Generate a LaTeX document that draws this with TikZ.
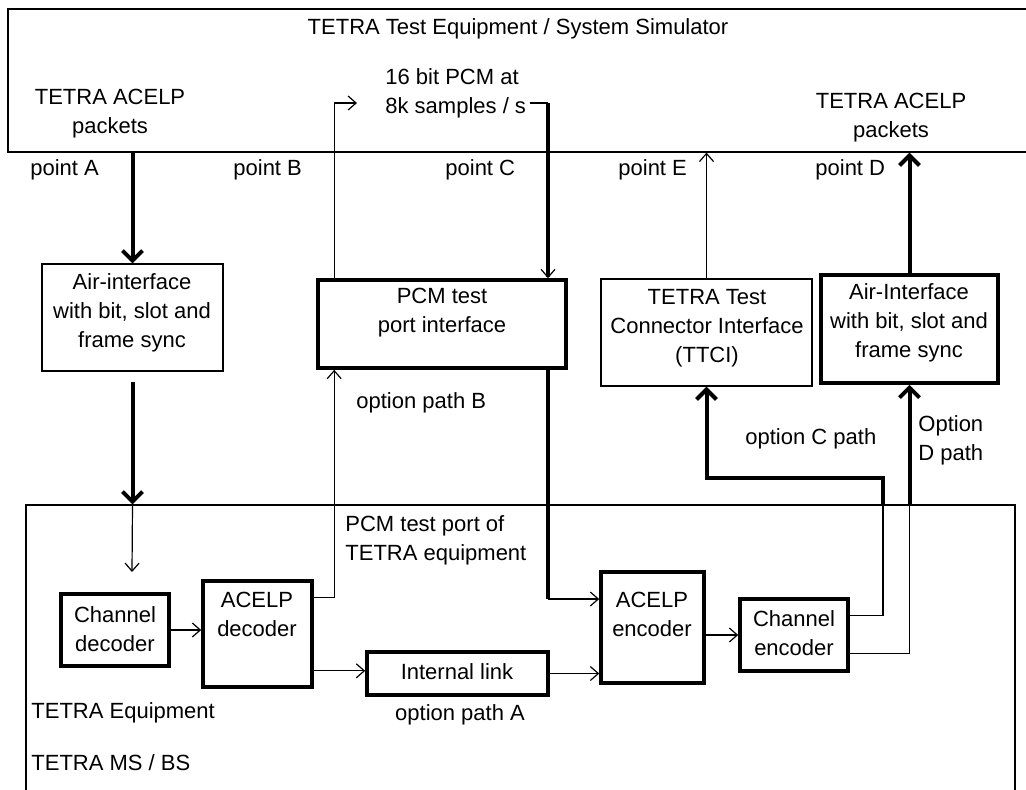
\documentclass[tikz,border=0pt]{standalone}
\usepackage{fontspec}
\setmainfont{Liberation Sans}
\usetikzlibrary{arrows.meta,fit,calc}
\tikzset{
 txt/.style={font=\fontsize{11}{14.5}\selectfont, inner sep=0pt, align=center},
 ltxt/.style={txt, align=left, anchor=west},
 thinbox/.style={draw, line width=0.6pt, inner sep=0pt},
 thickbox/.style={draw, line width=1.8pt, inner sep=0pt},
 thinline/.style={line width=0.6pt},
 thickline/.style={line width=2pt},
 midline/.style={line width=1.6pt},
 thinarrow/.style={thinline, -{Straight Barb[length=4pt,width=7pt]}},
 thickarrow/.style={thickline, -{Straight Barb[length=5pt,width=10pt]}},
}
\begin{document}
\begin{tikzpicture}[x=0.5pt,y=-0.5pt]
\useasboundingbox (0,0) rectangle (1026,789);
\clip (0,0) rectangle (1026,789);
% outer boxes
\node[thinbox, fit={(8,9) (1040,152)}] (topbox) {};
\node[thinbox, fit={(26,505) (1015,800)}] (botbox) {};
% blocks
\node[thinbox, fit={(42,264) (223,371)}] (air1) {};
\node[thickbox, fit={(318,280) (566,368)}] (pcm) {};
\node[thinbox, fit={(601,279) (812,386)}] (ttci) {};
\node[thickbox, fit={(821,275) (998,383)}] (air2) {};
\node[thickbox, fit={(61,594) (169,666)}] (chdec) {};
\node[thickbox, fit={(203,581) (312,687)}] (acdec) {};
\node[thickbox, fit={(367,652) (548,695)}] (ilink) {};
\node[thickbox, fit={(601,572) (704,683)}] (acenc) {};
\node[thickbox, fit={(740,599) (848,671)}] (chenc) {};
% block texts
\node[txt] (air1t) at (132,313) {Air-interface\\with bit, slot and\\frame sync};
\node[txt] (pcmt) at (442,313) {PCM test\\port interface};
\node[txt] (ttcit) at (707,328) {TETRA Test\\Connector Interface\\(TTCI)};
\node[txt] (air2t) at (909,323) {Air-Interface\\with bit, slot and\\frame sync};
\node[txt] (chdect) at (115,629) {Channel\\decoder};
\node[txt] (acdect) at (257,614) {ACELP\\decoder};
\node[txt] (ilinkt) at (457,672) {Internal link};
\node[txt] (acenct) at (652,614) {ACELP\\encoder};
\node[txt] (chenct) at (794,633) {Channel\\encoder};
% free texts
\node[txt] (title) at (518,29) {TETRA Test Equipment / System Simulator};
\node[txt] (pktA) at (110,114) {TETRA ACELP\\packets};
\node[txt] (pktD) at (891,118) {TETRA ACELP\\packets};
\node[ltxt] (pcm16) at (385,93) {16 bit PCM at\\8k samples / s};
\node[ltxt] (ptA) at (30,170) {point A};
\node[ltxt] (ptB) at (233,170) {point B};
\node[ltxt] (ptC) at (445,170) {point C};
\node[ltxt] (ptE) at (618,170) {point E};
\node[ltxt] (ptD) at (815,170) {point D};
\node[ltxt] (optB) at (356,403) {option path B};
\node[ltxt] (pcmport) at (345,540) {PCM test port of\\TETRA equipment};
\node[ltxt] (optC) at (745,439) {option C path};
\node[ltxt] (optD) at (918,440) {Option\\D path};
\node[txt] (optA) at (460,715) {option path A};
\node[ltxt] (teq) at (31,713) {TETRA Equipment};
\node[ltxt] (msbs) at (31,763) {TETRA MS / BS};
% coordinates
\coordinate (bEnd) at (357,103);
\coordinate (cStart) at (530,103);
\coordinate (cTurn) at (548,103);
\coordinate (cLow) at (548,599);
\coordinate (chIn) at (132,572);
\coordinate (cC1) at (883,505);
\coordinate (cC2) at (883,478);
% connectors
\draw[thickarrow] (air1.north |- topbox.south) -- (air1.north);
\draw[thickarrow, shorten <=5pt] (air1.south) -- (air1.south |- botbox.north);
\draw[thinarrow] (air1.south |- botbox.north) -- (chIn);
\draw[thinarrow] (chdec.east) -- (chdec.east -| acdec.west);
\draw[thinarrow] ([yshift=-9pt]acdec.north east) -| ([xshift=9pt]pcm.south west);
\draw[thinarrow] ([xshift=9pt]pcm.north west) |- (bEnd);
\draw[thinline] (cStart) -- (cTurn);
\draw[midline, -{Straight Barb[length=4pt,width=7pt,line width=0.6pt]}] (cTurn) -- (cTurn |- pcm.north);
\draw[midline] (cTurn |- pcm.south) -- (cLow);
\draw[thinarrow] (cLow) -- (cLow -| acenc.west);
\draw[thinarrow] ([yshift=9pt]acdec.south east) -- ([yshift=9pt]acdec.south east -| ilink.west);
\draw[thinarrow] (ilink.east) -- (ilink.east -| acenc.west);
\draw[thinarrow] (acenc.east |- chenc.west) -- (chenc.west);
\draw[thinline] ([yshift=-9pt]chenc.north east) -| (cC1);
\draw[thickarrow] (cC1) -- (cC2) -| (ttci.south);
\draw[thinline] ([yshift=9.5pt]chenc.south east) -| (air2.south |- botbox.north);
\draw[thickarrow] (air2.south |- botbox.north) -- (air2.south);
\draw[thinarrow] (ttci.north) -- (ttci.north |- topbox.south);
\draw[thickarrow] (air2.north) -- (air2.north |- topbox.south);
\end{tikzpicture}
\end{document}
